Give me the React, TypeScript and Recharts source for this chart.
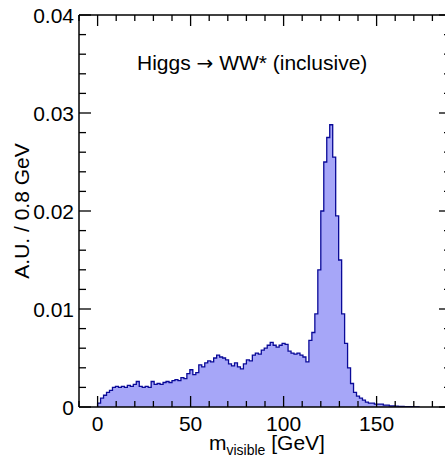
import React from "react";
import { ComposedChart, Area, XAxis, YAxis, ReferenceLine } from "recharts";

// ---- data ----
const BIN_START = 0;
const BIN_WIDTH = 1.6; // GeV
const BIN_VALUES = [
  0.0004, 0.0009, 0.0012, 0.0015, 0.0017, 0.002, 0.0021, 0.002, 0.0021, 0.002,
  0.0022, 0.0021, 0.0023, 0.0026, 0.0021, 0.002, 0.0021, 0.002, 0.0026, 0.0023,
  0.0024, 0.0023, 0.0025, 0.0026, 0.0025, 0.0027, 0.0028, 0.0027, 0.003, 0.0029,
  0.0034, 0.0038, 0.0033, 0.0035, 0.0043, 0.0041, 0.0045, 0.0047, 0.0046, 0.005,
  0.0053, 0.0051, 0.005, 0.0048, 0.0044, 0.0042, 0.0045, 0.0041, 0.0039, 0.0044,
  0.0048, 0.0047, 0.0053, 0.0055, 0.0054, 0.0058, 0.006, 0.0063, 0.0066, 0.0063,
  0.0061, 0.0063, 0.0065, 0.0064, 0.0057, 0.0055, 0.0054, 0.0055, 0.0053, 0.0051,
  0.0046, 0.0068, 0.0076, 0.0095, 0.014, 0.02, 0.025, 0.0275, 0.0288, 0.0255,
  0.0195, 0.015, 0.0095, 0.0065, 0.004, 0.0024, 0.0015, 0.0011, 0.0009, 0.0007,
  0.0005, 0.0004, 0.0004, 0.0003, 0.0003, 0.0003, 0.0002, 0.0002, 0.0001, 0.0001,
  0.00008, 0.00006, 0.00005, 0.00004, 0.00003, 0.00003, 0.00002, 0.00002,
];

const X_DOMAIN = [-10, 190];
const Y_DOMAIN = [0, 0.04];
const X_MAJOR_TICKS = [0, 50, 100, 150];
const X_MAJOR_LABELS = ["0", "50", "100", "150"];
const X_ALL_TICKS = [
  -10, 0, 10, 20, 30, 40, 50, 60, 70, 80, 90, 100, 110, 120, 130, 140, 150,
  160, 170, 180, 190,
];
const Y_MAJOR_TICKS = [0, 0.01, 0.02, 0.03, 0.04];
const Y_MAJOR_LABELS = ["0", "0.01", "0.02", "0.03", "0.04"];
const Y_ALL_TICKS = [
  0, 0.002, 0.004, 0.006, 0.008, 0.01, 0.012, 0.014, 0.016, 0.018, 0.02,
  0.022, 0.024, 0.026, 0.028, 0.03, 0.032, 0.034, 0.036, 0.038, 0.04,
];

const TITLE_LEFT = "Higgs ";
const TITLE_ARROW = "\u2192";
const TITLE_RIGHT = " WW* (inclusive)";
const Y_TITLE = "A.U. / 0.8 GeV";

// ---- layout ----
const CHART_W = 460;
const CHART_H = 465;
const M_TOP = 15;
const M_RIGHT = 9;
const Y_AXIS_W = 79;
const X_AXIS_H = 58;
const PLOT_W = CHART_W - M_RIGHT - Y_AXIS_W;
const PLOT_H = CHART_H - M_TOP - X_AXIS_H;
const FONT = "'Liberation Sans', Arial, Helvetica, sans-serif";
const FILL = "#a6a6f8";
const STROKE = "#0a0a98";

const data = [
  { x: BIN_START, y: 0 },
  ...BIN_VALUES.map((v, i) => ({ x: BIN_START + i * BIN_WIDTH, y: v })),
  { x: BIN_START + BIN_VALUES.length * BIN_WIDTH, y: 0 },
];

const near = (a: number, b: number) => Math.abs(a - b) < 1e-9;

const XTick = (props: any) => {
  const { x, y, payload } = props;
  const v = payload.value;
  const idx = X_MAJOR_TICKS.findIndex((t) => near(t, v));
  const len = idx >= 0 ? 11 : 6;
  return (
    <g>
      <line x1={x} y1={y} x2={x} y2={y - len} stroke="#000" strokeWidth={1.3} />
      <line x1={x} y1={y - PLOT_H} x2={x} y2={y - PLOT_H + len} stroke="#000" strokeWidth={1.3} />
      {idx >= 0 && (
        <text x={x} y={y + 24} textAnchor="middle" fontSize={21} fontFamily={FONT} fill="#000">
          {X_MAJOR_LABELS[idx]}
        </text>
      )}
    </g>
  );
};

const YTick = (props: any) => {
  const { x, y, payload } = props;
  const v = payload.value;
  const idx = Y_MAJOR_TICKS.findIndex((t) => near(t, v));
  const len = idx >= 0 ? 12 : 7;
  return (
    <g>
      <line x1={x} y1={y} x2={x + len} y2={y} stroke="#000" strokeWidth={1.3} />
      <line x1={x + PLOT_W} y1={y} x2={x + PLOT_W - len} y2={y} stroke="#000" strokeWidth={1.3} />
      {idx >= 0 && (
        <text x={x - 5} y={y + 7.5} textAnchor="end" fontSize={21} fontFamily={FONT} fill="#000">
          {Y_MAJOR_LABELS[idx]}
        </text>
      )}
    </g>
  );
};

export default function App() {
  return (
    <div
      style={{
        position: "absolute",
        left: 0,
        top: 0,
        width: 445,
        height: 465,
        overflow: "hidden",
        background: "#fff",
      }}
    >
      <ComposedChart
        width={CHART_W}
        height={CHART_H}
        data={data}
        margin={{ top: M_TOP, right: M_RIGHT, bottom: 0, left: 0 }}
      >
        <XAxis
          dataKey="x"
          type="number"
          domain={X_DOMAIN}
          ticks={X_ALL_TICKS}
          interval={0}
          height={X_AXIS_H}
          tickSize={0}
          tickMargin={0}
          tickLine={false}
          tick={<XTick />}
          axisLine={{ stroke: "#000", strokeWidth: 1.5 }}
          allowDataOverflow
        />
        <YAxis
          type="number"
          domain={Y_DOMAIN}
          ticks={Y_ALL_TICKS}
          interval={0}
          width={Y_AXIS_W}
          tickSize={0}
          tickMargin={0}
          tickLine={false}
          tick={<YTick />}
          axisLine={{ stroke: "#000", strokeWidth: 1.5 }}
          allowDataOverflow
        />
        <Area
          type="stepAfter"
          dataKey="y"
          stroke={STROKE}
          strokeWidth={1.3}
          fill={FILL}
          fillOpacity={1}
          baseValue={0}
          dot={false}
          activeDot={false}
          isAnimationActive={false}
        />
        <ReferenceLine y={Y_DOMAIN[1]} stroke="#000" strokeWidth={1.5} />
        <ReferenceLine x={X_DOMAIN[1]} stroke="#000" strokeWidth={1.5} />
      </ComposedChart>
      <svg
        width={445}
        height={465}
        style={{ position: "absolute", left: 0, top: 0, pointerEvents: "none" }}
      >
        <text x={137} y={70} fontSize={21} fontFamily={FONT} fill="#000">
          {TITLE_LEFT}
          <tspan fontFamily="'DejaVu Sans', sans-serif" fontSize={20}>
            {TITLE_ARROW}
          </tspan>
          {TITLE_RIGHT}
        </text>
        <text
          x={0}
          y={0}
          fontSize={21}
          fontFamily={FONT}
          fill="#000"
          textAnchor="middle"
          transform="translate(29 211) rotate(-90)"
        >
          {Y_TITLE}
        </text>
        <text x={209} y={450} fontSize={21} fontFamily={FONT} fill="#000">
          m
          <tspan dy={5} fontSize={14}>
            visible
          </tspan>
          <tspan dy={-5} fontSize={21}>
            {" [GeV]"}
          </tspan>
        </text>
      </svg>
    </div>
  );
}
